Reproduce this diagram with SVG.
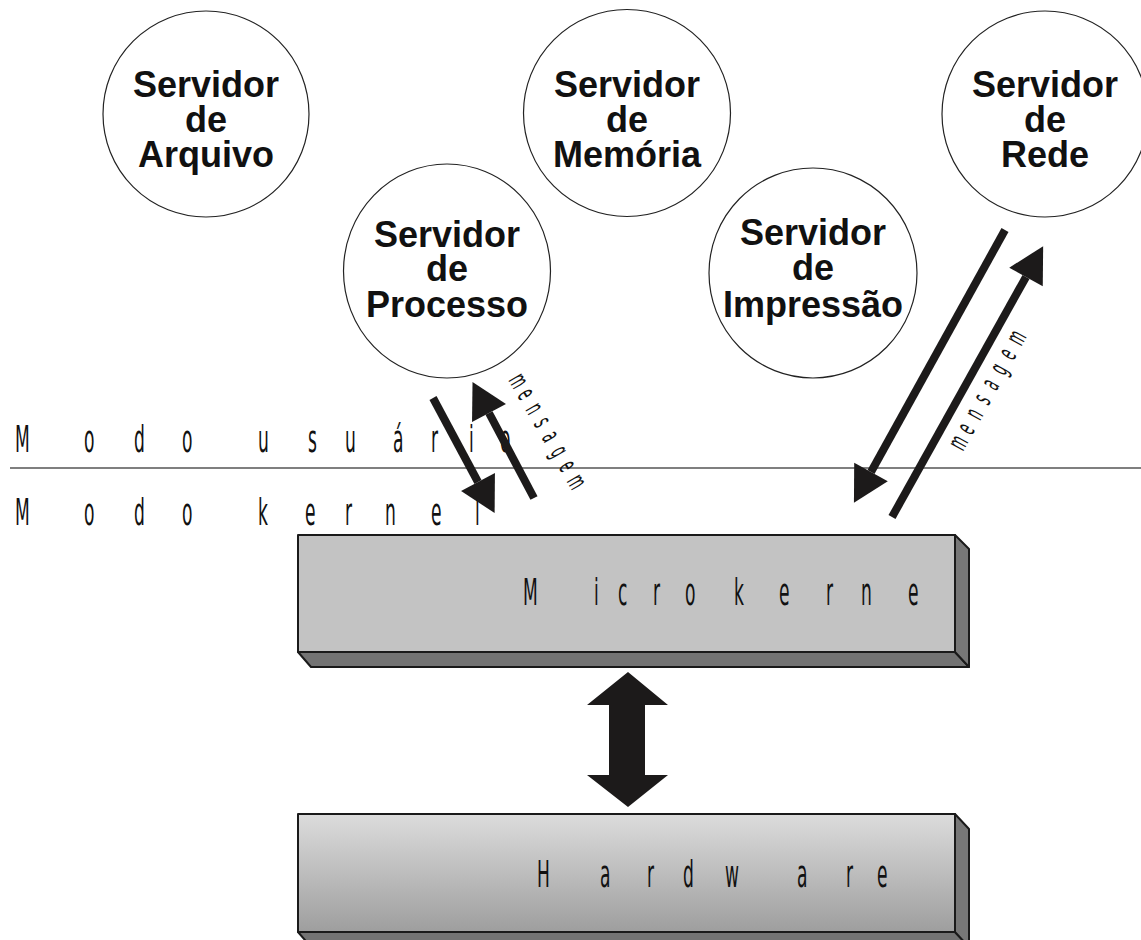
<svg xmlns="http://www.w3.org/2000/svg" width="1141" height="940" viewBox="0 0 1141 940">
<style>
.srv{fill:#fff;stroke:#222;stroke-width:1.2}
.lbl{font-family:"Liberation Sans",Arial,sans-serif;font-weight:bold;font-size:36px;fill:#111;text-anchor:middle}
.cond{font-family:"DejaVu Sans Condensed","DejaVu Sans",sans-serif;font-size:38px;fill:#111}
.msg{font-family:"DejaVu Sans Condensed","DejaVu Sans",sans-serif;font-size:27px;fill:#111}
.arr{stroke:#1c1a1a;stroke-width:8;fill:none;marker-end:url(#head)}
.edge{stroke:#1a1a1a;stroke-width:2;stroke-linejoin:round}
</style>
<defs>
<marker id="head" markerUnits="strokeWidth" markerWidth="4.5" markerHeight="5" refX="0" refY="2.4" orient="auto" overflow="visible">
<path d="M0,0 L4.4,2.4 L0,4.8 Z" fill="#1c1a1a"/>
</marker>
<linearGradient id="hw" x1="0" y1="0" x2="0" y2="1">
<stop offset="0" stop-color="#dcdcdc"/>
<stop offset="1" stop-color="#9e9e9e"/>
</linearGradient>
</defs>
<rect width="1141" height="940" fill="#fff"/>

<g id="servidor-arquivo">
<circle class="srv" cx="206" cy="114" r="103"/>
<text class="lbl"><tspan x="206" y="97">Servidor</tspan><tspan x="206" y="132">de</tspan><tspan x="206" y="167">Arquivo</tspan></text>
</g>
<g id="servidor-memoria">
<circle class="srv" cx="627" cy="113" r="103.5"/>
<text class="lbl"><tspan x="627" y="97">Servidor</tspan><tspan x="627" y="132">de</tspan><tspan x="627" y="167">Memória</tspan></text>
</g>
<g id="servidor-rede">
<circle class="srv" cx="1045" cy="114" r="103"/>
<text class="lbl"><tspan x="1045" y="97">Servidor</tspan><tspan x="1045" y="132">de</tspan><tspan x="1045" y="167">Rede</tspan></text>
</g>
<g id="servidor-processo">
<ellipse class="srv" cx="447" cy="271" rx="103.5" ry="107"/>
<text class="lbl"><tspan x="447" y="247">Servidor</tspan><tspan x="447" y="281">de</tspan><tspan x="447" y="317">Processo</tspan></text>
</g>
<g id="servidor-impressao">
<ellipse class="srv" cx="813" cy="273" rx="104" ry="105"/>
<text class="lbl"><tspan x="813" y="245">Servidor</tspan><tspan x="813" y="280">de</tspan><tspan x="813" y="317">Impressão</tspan></text>
</g>

<g id="modos">
<line x1="10" y1="468" x2="1141" y2="468" stroke="#555" stroke-width="1.5"/>
<text class="cond" transform="scale(0.5,1)" y="452" x="30 168 268 364 436 516 616 690 786 862 938 1000">Modo usuário</text>
<text class="cond" transform="scale(0.5,1)" y="525" x="30 168 268 364 436 516 610 690 770 862 950">Modo kernel</text>
</g>

<g id="microkernel">
<polygon points="298,652 955,652 969,667 311,667" fill="#737373" class="edge"/>
<polygon points="955,535 969,549 969,667 955,652" fill="#777" class="edge"/>
<rect x="298" y="535" width="657" height="117" fill="#c3c3c3" class="edge"/>
<text class="cond" transform="scale(0.5,1)" y="605" x="1046 1188 1236 1306 1370 1468 1558 1652 1722 1816">Microkerne</text>
</g>

<g id="hardware">
<polygon points="298,932 955,932 969,947 311,947" fill="#737373" class="edge"/>
<polygon points="955,814 969,829 969,947 955,932" fill="#777" class="edge"/>
<rect x="298" y="814" width="657" height="118" fill="url(#hw)" class="edge"/>
<text class="cond" transform="scale(0.5,1)" y="887" x="1074 1200 1294 1366 1450 1594 1692 1754">Hardware</text>
</g>

<g id="connectors">
<line class="arr" x1="433" y1="398" x2="478" y2="482"/>
<line class="arr" x1="534" y1="498" x2="489" y2="413"/>
<line class="arr" x1="1005" y1="230" x2="871" y2="472"/>
<line class="arr" x1="892" y1="517" x2="1026" y2="277"/>
<polygon points="628,672 668,705 645,705 645,775 668,775 628,807 587,775 609,775 609,705 587,705" fill="#1c1a1a"/>
<g transform="translate(508,380) rotate(60)">
<text class="msg" transform="scale(0.5,1)" y="0" x="0 34.8 68 101.2 133 167.2 201.2 233.2">mensagem</text>
</g>
<g transform="translate(963,452) rotate(-61)">
<text class="msg" transform="scale(0.5,1)" y="0" x="0 35.8 69.8 104.4 137.6 172 206.8 240">mensagem</text>
</g>
</g>
</svg>
